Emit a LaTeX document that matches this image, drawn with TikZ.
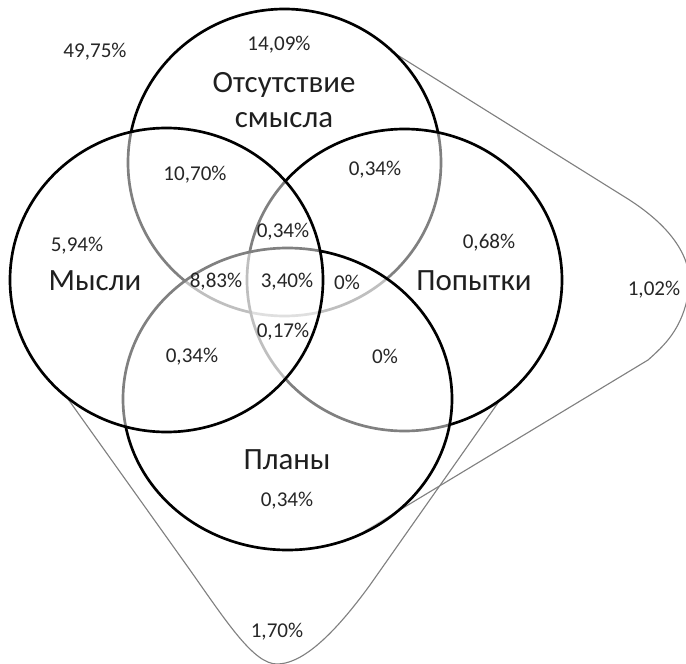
\documentclass[tikz,border=0pt]{standalone}
\usepackage{fontspec}
\setmainfont{Carlito}
\tikzset{
    venncircle/.style={
        draw=black,
        line width=1.9pt,
        fill=white,
        fill opacity=0.5 % lets the arcs below show through in gray
    },
    outerloop/.style={
        draw=black!50,
        line width=0.8pt
    },
    setlabel/.style={
        font=\fontsize{22}{24}\selectfont,
        text=black!88,
        inner sep=0pt
    },
    pctlabel/.style={
        font=\fontsize{15}{17}\selectfont,
        text=black!85,
        inner sep=0pt
    }
}

\begin{document}
\begin{tikzpicture}[x=0.025cm, y=-0.025cm]
    \useasboundingbox (0,0) rectangle (686,664);

    % centres of the four sets
    \coordinate (ctop) at (284.5,162.5);
    \coordinate (cright) at (404.5,280);
    \coordinate (cbottom) at (287.5,399);
    \coordinate (cleft) at (166.5,280);

    % outer loops, behind the circles
    \draw[outerloop] (391,51) -- (628,199)
        .. controls (672,227) and (698,262) .. (687,300)
        .. controls (680,330) and (665,345) .. (648,360) -- (365,531);
    \draw[outerloop] (68,399) -- (190,570)
        .. controls (228,624) and (254,664) .. (277,664)
        .. controls (300,664) and (330,640) .. (370,585) -- (500,400);

    % circles, in stacking order
    \draw[venncircle] (ctop) ellipse [x radius=156.5, y radius=153.5];
    \draw[venncircle] (cright) ellipse [x radius=157.5, y radius=151];
    \draw[venncircle] (cbottom) ellipse [x radius=164.5, y radius=151];
    \draw[venncircle] (cleft) ellipse [x radius=156.5, y radius=152];

    % set names
    \node[setlabel, align=center] (absence) at (284,100) {Отсутствие\\[1pt]смысла};
    \node[setlabel] (thoughts) at (95,281) {Мысли};
    \node[setlabel] (attempts) at (474,281) {Попытки};
    \node[setlabel] (plans) at (287,460) {Планы};

    % shares
    \node[pctlabel] (outside) at (95,52) {49,75\%};
    \node[pctlabel] (onlytop) at (279,45) {14,09\%};
    \node[pctlabel] (topleft) at (195,175) {10,70\%};
    \node[pctlabel] (topright) at (375,170) {0,34\%};
    \node[pctlabel] (toplr) at (283,232) {0,34\%};
    \node[pctlabel] (onlyleft) at (77,246) {5,94\%};
    \node[pctlabel] (onlyright) at (489,243) {0,68\%};
    \node[pctlabel] (topleftbot) at (216,282) {8,83\%};
    \node[pctlabel] (allfour) at (287,282) {3,40\%};
    \node[pctlabel] (toprightbot) at (347,282) {0\%};
    \node[pctlabel] (leftrightbot) at (283,332) {0,17\%};
    \node[pctlabel] (leftbot) at (192,357) {0,34\%};
    \node[pctlabel] (rightbot) at (385,356) {0\%};
    \node[pctlabel] (onlybot) at (287,501) {0,34\%};
    \node[pctlabel] (rightloop) at (654,290) {1,02\%};
    \node[pctlabel] (bottomloop) at (277,632) {1,70\%};
\end{tikzpicture}
\end{document}
